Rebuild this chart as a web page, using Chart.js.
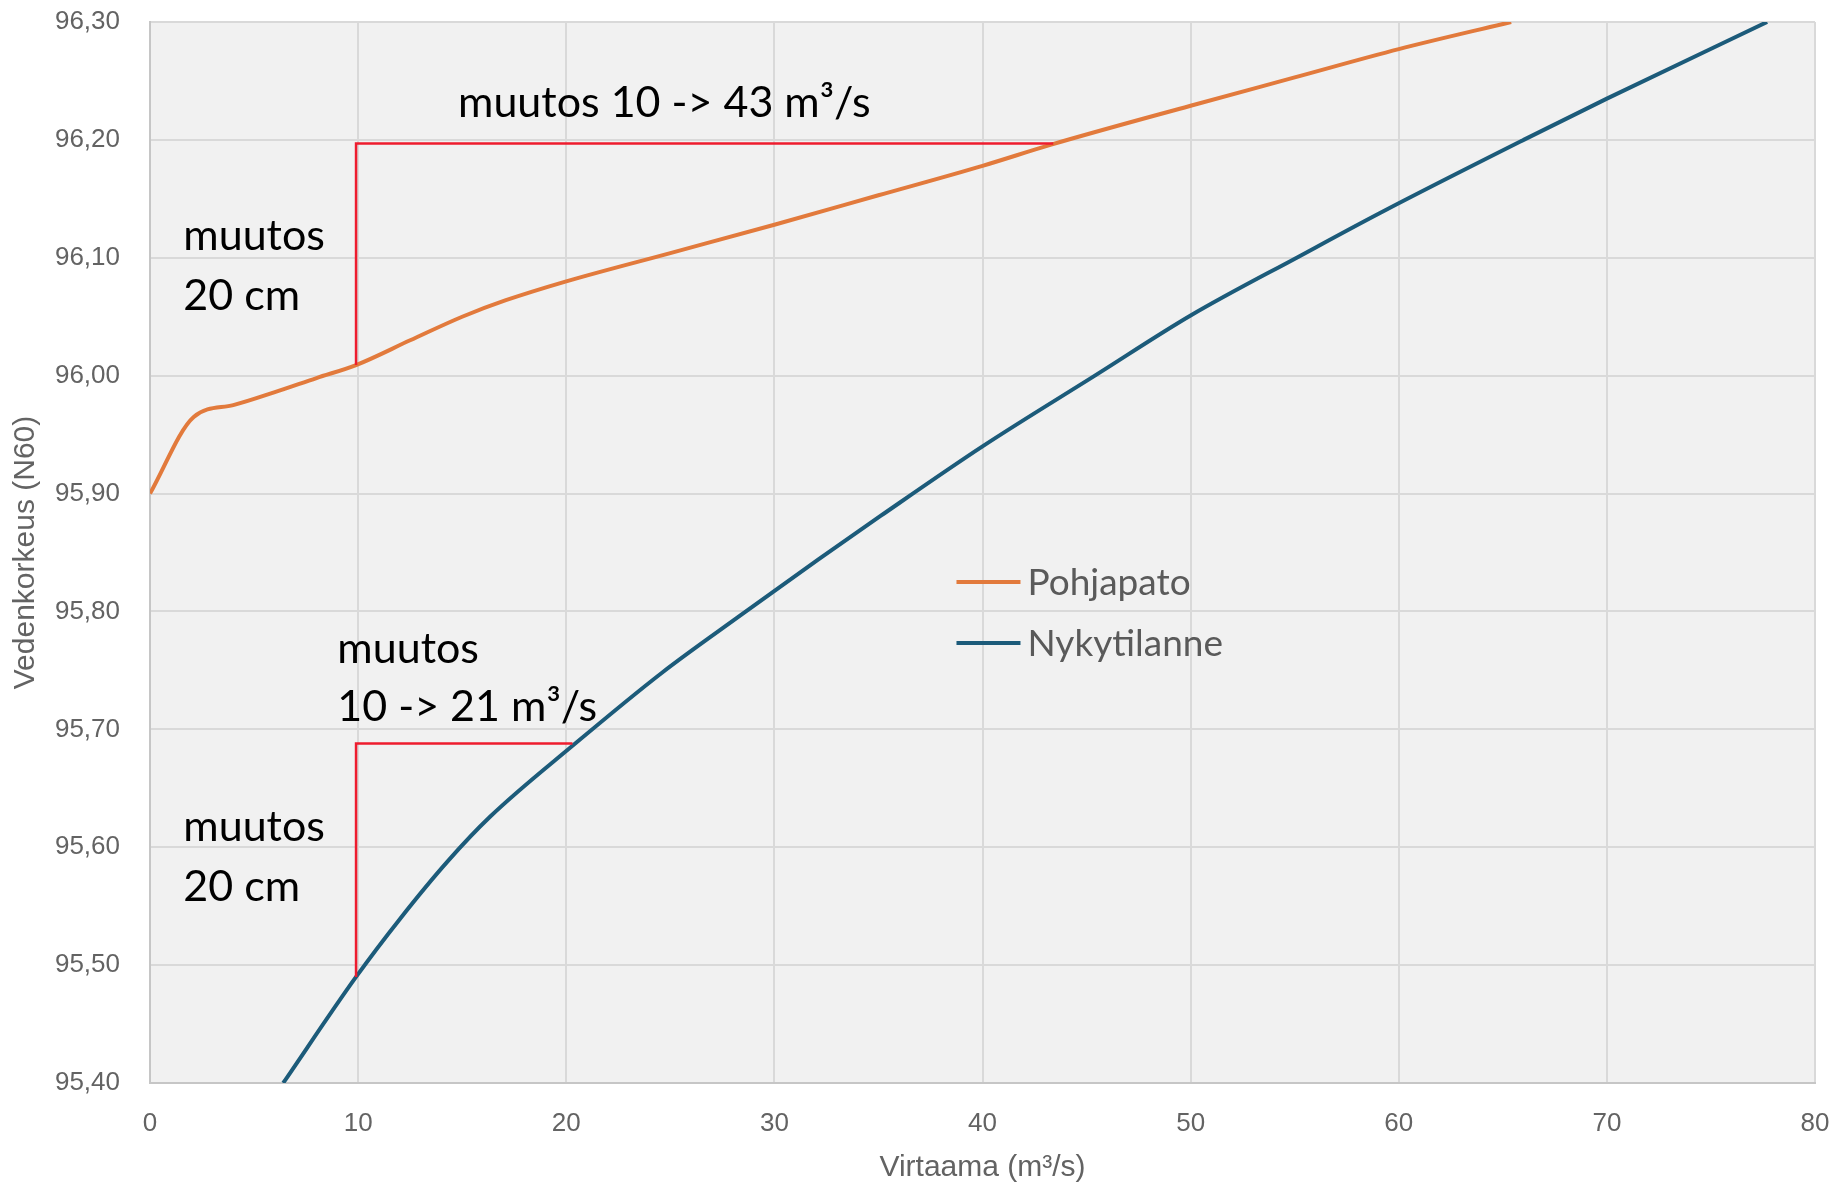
<!DOCTYPE html>
<html>
<head>
<meta charset="utf-8">
<script src="https://cdn.jsdelivr.net/npm/chart.js@4.4.1/dist/chart.umd.min.js"></script>
<style>
  html, body { margin: 0; padding: 0; background: #ffffff; }
  #wrap { width: 1835px; height: 1186px; position: relative; }
</style>
</head>
<body>
<div id="wrap"><canvas id="c" width="1835" height="1186"></canvas></div>
<script>
// ---- data ----
const pohjapatoX = [0, 2.1, 4.0, 6.0, 8.0, 9.9, 12.5, 15, 17.1, 20, 25, 30, 35, 40, 43.3, 50, 55, 60, 65.4];
const pohjapatoY = [95.900, 95.965, 95.975, 95.986, 95.998, 96.009, 96.030, 96.050, 96.064, 96.080, 96.104, 96.128, 96.153, 96.178, 96.196, 96.229, 96.253, 96.277, 96.300];

const nykyX = [6.4, 9.9, 12.0, 14.3, 16.35, 20.3, 24.6, 28.4, 32.1, 35.1, 40, 45.4, 50, 55.3, 59.1, 66, 70, 77.7];
const nykyY = [95.400, 95.490, 95.539, 95.588, 95.626, 95.686, 95.748, 95.797, 95.844, 95.881, 95.940, 96.000, 96.051, 96.102, 96.138, 96.200, 96.235, 96.300];

// red helper lines ("muutos" markers)
const change1X = [9.9, 9.9, 43.4];
const change1Y = [96.009, 96.197, 96.197];
const change2X = [9.9, 9.9, 20.3];
const change2Y = [95.490, 95.688, 95.688];

const xTicks = [0, 10, 20, 30, 40, 50, 60, 70, 80];
const yTicks = [95.4, 95.5, 95.6, 95.7, 95.8, 95.9, 96.0, 96.1, 96.2, 96.3];

const seriesNames = ['Pohjapato', 'Nykytilanne'];
const seriesColors = ['#e27a3c', '#1c5b7a'];
const xTitle = 'Virtaama (m\u00b3/s)';
const yTitle = 'Vedenkorkeus (N60)';

// annotation texts anchored in data coordinates
const noteTexts = ['muutos 10 -> 43 m\u00b3/s', 'muutos', '20 cm', 'muutos', '10 -> 21 m\u00b3/s', 'muutos', '20 cm'];
const noteX =     [14.8, 1.6, 1.6, 9.0, 9.0, 1.6, 1.6];
const noteY =     [96.219, 96.107, 96.056, 95.756, 95.707, 95.605, 95.554];

const toPts = (xs, ys) => xs.map((x, i) => ({x: x, y: ys[i]}));

const bgPlugin = {
  id: 'plotBg',
  beforeDraw(chart) {
    const {ctx, chartArea: a} = chart;
    ctx.save();
    ctx.fillStyle = '#f1f1f1';
    ctx.fillRect(a.left, a.top, a.right - a.left, a.bottom - a.top);
    ctx.restore();
  }
};

const overlayPlugin = {
  id: 'overlay',
  afterDraw(chart) {
    const ctx = chart.ctx;
    const xs = chart.scales.x, ys = chart.scales.y;
    ctx.save();
    // annotation texts
    ctx.fillStyle = '#000000';
    ctx.font = '43px Lato, "Open Sans", sans-serif';
    ctx.textAlign = 'left';
    ctx.textBaseline = 'alphabetic';
    noteTexts.forEach((t, i) => {
      ctx.fillText(t, xs.getPixelForValue(noteX[i]), ys.getPixelForValue(noteY[i]));
    });
    // legend inside the plot
    const lx = xs.getPixelForValue(38.75);
    const ly0 = ys.getPixelForValue(95.825);
    const gap = 61;
    ctx.font = '37px Lato, "Open Sans", sans-serif';
    ctx.textBaseline = 'middle';
    seriesNames.forEach((n, i) => {
      const y = ly0 + i * gap;
      ctx.strokeStyle = seriesColors[i];
      ctx.lineWidth = 4;
      ctx.beginPath();
      ctx.moveTo(lx, y);
      ctx.lineTo(lx + 64, y);
      ctx.stroke();
      ctx.fillStyle = '#5a5a5a';
      ctx.fillText(n, lx + 71, y + 1);
    });
    ctx.restore();
  }
};

function zeroPad(s) {
  s.paddingTop = 0; s.paddingBottom = 0; s.paddingLeft = 0; s.paddingRight = 0;
}

function build() {
  const ctx = document.getElementById('c').getContext('2d');
  new Chart(ctx, {
    type: 'line',
    data: {
      datasets: [
        {
          label: seriesNames[0],
          data: toPts(pohjapatoX, pohjapatoY),
          borderColor: seriesColors[0],
          borderWidth: 4,
          pointRadius: 0,
          cubicInterpolationMode: 'monotone',
          fill: false,
          order: 2
        },
        {
          label: seriesNames[1],
          data: toPts(nykyX, nykyY),
          borderColor: seriesColors[1],
          borderWidth: 4,
          pointRadius: 0,
          cubicInterpolationMode: 'monotone',
          fill: false,
          order: 2
        },
        {
          label: 'muutos 1',
          data: toPts(change1X, change1Y),
          borderColor: '#ee1c2e',
          borderWidth: 2.5,
          pointRadius: 0,
          tension: 0,
          fill: false,
          order: 1
        },
        {
          label: 'muutos 2',
          data: toPts(change2X, change2Y),
          borderColor: '#ee1c2e',
          borderWidth: 2.5,
          pointRadius: 0,
          tension: 0,
          fill: false,
          order: 1
        }
      ]
    },
    options: {
      responsive: false,
      animation: false,
      layout: { padding: { left: 0, top: 22, right: 20, bottom: 0 } },
      plugins: {
        legend: { display: false },
        tooltip: { enabled: false }
      },
      scales: {
        x: {
          type: 'linear',
          min: 0, max: 80,
          afterBuildTicks: (s) => { s.ticks = xTicks.map(v => ({value: v})); },
          afterFit: (s) => { s.height = 103; zeroPad(s); },
          grid: { color: '#d9d9d9', lineWidth: 2, drawTicks: false, tickLength: 0 },
          border: { color: '#c6c6c6', width: 2 },
          ticks: {
            color: '#636363',
            font: { family: '"Liberation Sans", Arial, sans-serif', size: 26 },
            padding: 25,
            maxRotation: 0,
            callback: (v) => String(v)
          },
          title: {
            display: true,
            text: xTitle,
            color: '#636363',
            font: { family: '"Liberation Sans", Arial, sans-serif', size: 30 },
            padding: { top: 0, bottom: 0 }
          }
        },
        y: {
          type: 'linear',
          min: 95.4, max: 96.3,
          afterBuildTicks: (s) => { s.ticks = yTicks.map(v => ({value: v})); },
          afterFit: (s) => { s.width = 150; zeroPad(s); },
          grid: { color: '#d9d9d9', lineWidth: 2, drawTicks: false, tickLength: 0 },
          border: { color: '#c6c6c6', width: 2 },
          ticks: {
            color: '#636363',
            font: { family: '"Liberation Sans", Arial, sans-serif', size: 26 },
            padding: 30,
            callback: (v) => Number(v).toFixed(2).replace('.', ',')
          },
          title: {
            display: true,
            text: yTitle,
            color: '#636363',
            font: { family: '"Liberation Sans", Arial, sans-serif', size: 30 },
            padding: { top: 8, bottom: 0 }
          }
        }
      }
    },
    plugins: [bgPlugin, overlayPlugin]
  });
}

let built = false;
function go() { if (!built) { built = true; build(); } }
if (document.fonts && document.fonts.load) {
  Promise.all([
    document.fonts.load('43px Lato'),
    document.fonts.load('26px "Liberation Sans"')
  ]).then(go, go);
  setTimeout(go, 1500);
} else {
  go();
}
</script>
</body>
</html>
